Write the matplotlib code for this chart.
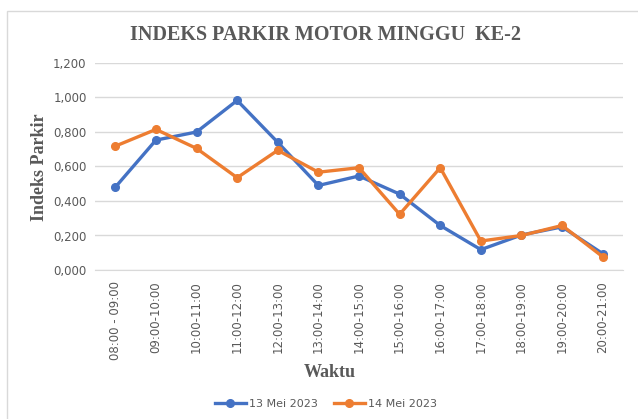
import numpy as np
import matplotlib.pyplot as plt
from matplotlib.patches import Rectangle
from matplotlib.ticker import FuncFormatter

# data
waktu = ['08:00 - 09:00', '09:00-10:00', '10:00-11:00', '11:00-12:00', '12:00-13:00',
         '13:00-14:00', '14:00-15:00', '15:00-16:00', '16:00-17:00', '17:00-18:00',
         '18:00-19:00', '19:00-20:00', '20:00-21:00']
mei13 = [0.480, 0.753, 0.800, 0.983, 0.740, 0.490, 0.545, 0.440, 0.258, 0.118, 0.203, 0.250, 0.095]
mei14 = [0.718, 0.815, 0.705, 0.535, 0.694, 0.567, 0.593, 0.323, 0.593, 0.168, 0.200, 0.258, 0.077]

gray = '#595959'
serif = 'Liberation Serif'

fig = plt.figure(figsize=(6.38, 4.19), dpi=100)
ax = fig.add_axes([95/638, 1-270/419, 528/638, 207/419])

x = np.arange(len(waktu))
ax.plot(x, mei13, color='#4472C4', lw=2.4, marker='o', ms=5.5, label='13 Mei 2023')
ax.plot(x, mei14, color='#ED7D31', lw=2.4, marker='o', ms=5.5, label='14 Mei 2023')

ax.set_xlim(-0.5, len(waktu) - 0.5)
ax.set_ylim(0, 1.2)
ax.set_yticks(np.arange(0, 1.21, 0.2))
ax.yaxis.set_major_formatter(FuncFormatter(lambda v, p: ('%.3f' % v).replace('.', ',')))
ax.set_xticks(x)
ax.set_xticklabels(waktu, rotation=90)
ax.tick_params(length=0, colors=gray, labelsize=8.5)
ax.tick_params(axis='x', pad=8)
ax.tick_params(axis='y', pad=6)
ax.grid(axis='y', color='#D9D9D9', lw=1)
ax.set_axisbelow(True)
for s in ['top', 'right', 'left']:
    ax.spines[s].set_visible(False)
ax.spines['bottom'].set_color('#D9D9D9')

fig.text(325/638, 1-35/419, 'INDEKS PARKIR MOTOR MINGGU  KE-2', ha='center', va='center',
         fontsize=14.5, fontweight='bold', color=gray, family=serif)
fig.text(40/638, 1-167/419, 'Indeks Parkir', ha='center', va='center', rotation=90,
         fontsize=13, fontweight='bold', color=gray, family=serif)
fig.text(330/638, 1-372/419, 'Waktu', ha='center', va='center',
         fontsize=13, fontweight='bold', color=gray, family=serif)

leg = fig.legend(loc='center', bbox_to_anchor=(326/638, 1-404/419), ncol=2, frameon=False,
                 fontsize=8, handlelength=2.8, columnspacing=1.4, handletextpad=0.3)
for t in leg.get_texts():
    t.set_color(gray)

fig.patches.append(Rectangle((7/638, -0.02), 1.05, 1-11/419+0.02, transform=fig.transFigure,
                             fill=False, edgecolor='#D9D9D9', lw=1))

fig.savefig('out.png', dpi=100)
